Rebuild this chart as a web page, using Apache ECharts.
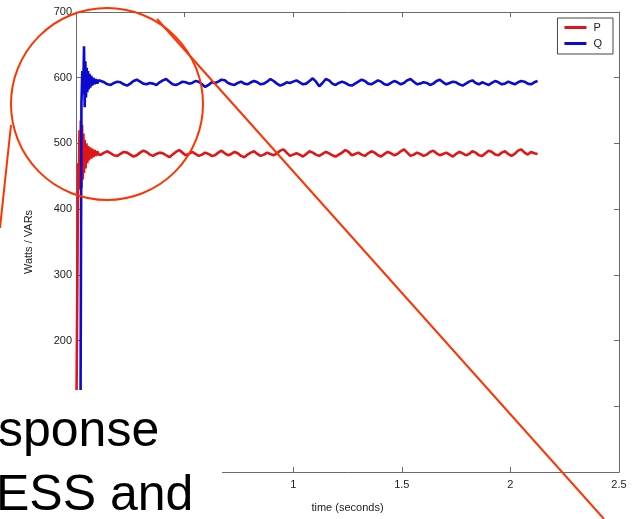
<!DOCTYPE html>
<html>
<head>
<meta charset="utf-8">
<script src="https://cdn.jsdelivr.net/npm/echarts@6/dist/echarts.min.js"></script>
<style>html,body{margin:0;padding:0;background:#fff;}#c{width:635px;height:519px;}</style>
</head>
<body>
<div id="c"></div>
<script>
// ---- data ----
const X_TICKS = [0, 0.5, 1, 1.5, 2, 2.5];
const Y_TICKS = [0, 100, 200, 300, 400, 500, 600, 700];

// start-up transient (time in seconds, value)
const P_TRANS_T = [0, 0.006, 0.010, 0.013, 0.016, 0.019, 0.022, 0.025, 0.028, 0.031, 0.034, 0.037, 0.040, 0.044, 0.048, 0.052, 0.056, 0.060, 0.065, 0.070, 0.075, 0.080, 0.086, 0.092, 0.098, 0.104, 0.110];
const P_TRANS_V = [0, 0, 470, 430, 520, 440, 535, 432, 528, 445, 515, 455, 505, 462, 500, 470, 496, 474, 494, 477, 492, 479, 490, 481, 488, 483, 486];
const Q_TRANS_T = [0, 0.020, 0.025, 0.029, 0.033, 0.037, 0.040, 0.043, 0.046, 0.049, 0.052, 0.055, 0.058, 0.062, 0.066, 0.070, 0.075, 0.080, 0.086, 0.092, 0.098, 0.104, 0.110];
const Q_TRANS_V = [0, 0, 560, 610, 575, 648, 555, 625, 570, 615, 578, 610, 582, 606, 585, 603, 588, 600, 590, 598, 591, 596, 594];

// steady state, sampled every STEADY_DT seconds from STEADY_T0
const STEADY_T0 = 0.115;
const STEADY_DT = 0.015;
const P_STEADY = [
 483,486,488,485,482,481,484,487,486,483,
 480,482,486,489,487,483,481,484,486,485,
 482,479,483,487,490,486,482,484,487,484,
 481,483,486,484,481,482,486,489,485,482,
 484,487,485,481,479,483,486,488,484,481,
 483,486,484,482,485,489,491,486,481,483,
 485,483,480,484,488,486,483,481,484,487,
 485,482,480,483,486,490,487,482,484,486,
 483,481,485,488,486,482,480,484,487,485,
 482,484,488,491,486,481,483,486,484,481,
 483,487,489,485,482,484,486,483,480,484,
 487,485,482,484,488,486,482,481,485,489,
 487,483,482,486,488,484,481,484,489,491,
 486,483,487,485,484];
const Q_STEADY = [
 595,593,590,589,592,594,593,590,588,591,
 595,597,594,591,590,592,591,589,593,596,
 598,594,590,589,591,594,593,591,592,595,
 594,590,586,589,593,592,594,597,596,592,
 590,589,592,594,591,590,593,595,593,590,
 591,594,598,595,591,588,590,593,592,594,
 596,593,590,591,595,599,594,587,592,598,
 596,591,589,592,594,592,589,588,591,594,
 597,595,591,590,593,596,594,590,589,592,
 595,593,590,592,596,598,594,590,591,593,
 592,589,591,595,597,593,590,592,594,593,
 590,588,591,594,596,592,590,593,591,589,
 592,595,593,590,591,594,592,590,593,595,
 594,591,590,593,595];

function build(tt, tv, steady) {
  const out = tt.map((t, i) => [t, tv[i]]);
  steady.forEach((v, i) => out.push([+(STEADY_T0 + i * STEADY_DT).toFixed(4), v]));
  return out;
}
const P_DATA = build(P_TRANS_T, P_TRANS_V, P_STEADY);
const Q_DATA = build(Q_TRANS_T, Q_TRANS_V, Q_STEADY);

const FONT = 'Liberation Sans, Arial, sans-serif';
const AX = '#6a6a6a';
const LBL = '#222';

const chart = echarts.init(document.getElementById('c'), null, {renderer: 'canvas'});
const axisCommon = {
  axisLine: {show: true, onZero: false, lineStyle: {color: AX, width: 1}},
  axisTick: {show: true, inside: true, length: 5, lineStyle: {color: AX}},
  splitLine: {show: false}
};
chart.setOption({
  animation: false,
  backgroundColor: '#fff',
  grid: {left: 76, top: 12, right: 16, bottom: 47, containLabel: false},
  legend: {
    data: ['P', 'Q'], orient: 'vertical', right: 22, top: 18,
    padding: [3, 11, 4, 7], itemGap: 3, itemWidth: 22, itemHeight: 3, icon: 'rect',
    borderColor: '#444', borderWidth: 1, backgroundColor: '#fff',
    textStyle: {fontFamily: FONT, fontSize: 11, color: LBL, lineHeight: 13, padding: [0, 0, 0, 2]}
  },
  xAxis: [
    Object.assign({type: 'value', min: 0, max: 2.5, interval: 0.5, position: 'bottom',
      name: 'time (seconds)', nameLocation: 'middle', nameGap: 30,
      nameTextStyle: {fontFamily: FONT, fontSize: 11, color: LBL},
      axisLabel: {fontFamily: FONT, fontSize: 11, color: LBL, margin: 7,
        formatter: v => X_TICKS.includes(v) ? String(v) : ''}}, axisCommon),
    Object.assign({type: 'value', min: 0, max: 2.5, interval: 0.5, position: 'top',
      axisLabel: {show: false}}, axisCommon)
  ],
  yAxis: [
    Object.assign({type: 'value', min: 0, max: 700, interval: 100, position: 'left',
      name: 'Watts / VARs', nameLocation: 'middle', nameGap: 42, nameRotate: 90,
      nameTextStyle: {fontFamily: FONT, fontSize: 11, color: LBL},
      axisLabel: {fontFamily: FONT, fontSize: 11, color: LBL, margin: 4,
        formatter: v => Y_TICKS.includes(v) ? String(v) : ''}}, axisCommon),
    Object.assign({type: 'value', min: 0, max: 700, interval: 100, position: 'right',
      axisLabel: {show: false}}, axisCommon)
  ],
  series: [
    {name: 'P', type: 'line', data: P_DATA, showSymbol: false, symbol: 'none',
      lineStyle: {color: '#e01515', width: 2.6}, itemStyle: {color: '#e01515'}},
    {name: 'Q', type: 'line', data: Q_DATA, showSymbol: false, symbol: 'none',
      lineStyle: {color: '#0a0ad0', width: 2.6}, itemStyle: {color: '#0a0ad0'}}
  ],
  graphic: [
    {type: 'rect', z: 100, shape: {x: 0, y: 390, width: 222, height: 129}, style: {fill: '#fff'}},
    {type: 'text', z: 101, x: -2, y: 457, style: {text: 'sponse', fontFamily: FONT, fontSize: 50, fill: '#000', verticalAlign: 'bottom'}},
    {type: 'text', z: 101, x: -4, y: 521, style: {text: 'ESS and', fontFamily: FONT, fontSize: 50, fill: '#000', verticalAlign: 'bottom'}},
    {type: 'circle', z: 102, shape: {cx: 107, cy: 104, r: 96}, style: {fill: 'none', stroke: '#ff3300', lineWidth: 2}},
    {type: 'line', z: 102, shape: {x1: 11, y1: 125, x2: 0, y2: 228}, style: {stroke: '#ff3300', lineWidth: 2}},
    {type: 'line', z: 102, shape: {x1: 157, y1: 19, x2: 604, y2: 519}, style: {stroke: '#ff3300', lineWidth: 2}}
  ]
});
</script>
</body>
</html>
